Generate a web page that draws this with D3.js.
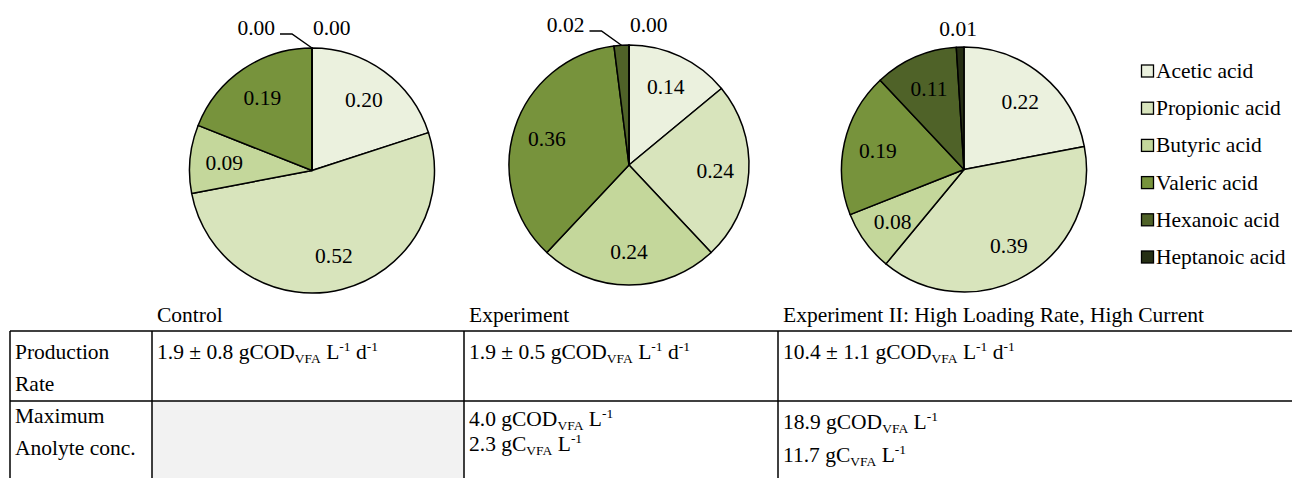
<!DOCTYPE html>
<html>
<head>
<meta charset="utf-8">
<script src="https://cdn.jsdelivr.net/npm/d3@7"></script>
<style>
  html, body { margin: 0; padding: 0; background: #fff; }
  svg { display: block; font-family: "Liberation Serif", "Times New Roman", serif; }
</style>
</head>
<body>
<svg width="1292" height="478"></svg>
<script>
// acids, colours and the three pie compositions
const acids = ["Acetic acid", "Propionic acid", "Butyric acid", "Valeric acid", "Hexanoic acid", "Heptanoic acid"];
const acidColors = ["#ebf1de", "#d8e4bc", "#c4d79b", "#77933c", "#4f6228", "#262f14"];
const controlShares = [0.20, 0.52, 0.09, 0.19, 0.00, 0.00];
const experimentShares = [0.14, 0.24, 0.24, 0.36, 0.02, 0.00];
const experiment2Shares = [0.22, 0.39, 0.08, 0.19, 0.11, 0.01];

// table contents
const conditions = ["Control", "Experiment", "Experiment II: High Loading Rate, High Current"];
const rowLabels = [["Production", "Rate"], ["Maximum", "Anolyte conc."]];
const productionRates = ["1.9 ± 0.8", "1.9 ± 0.5", "10.4 ± 1.1"];
const maxCodConc = [null, "4.0", "18.9"];
const maxCarbonConc = [null, "2.3", "11.7"];

const svg = d3.select("svg");
const fmt = d3.format(".2f");
const fontSize = 21.5;

// layout
const pies = [
  { shares: controlShares, cx: 312, cy: 170.5, r: 122.5 },
  { shares: experimentShares, cx: 629, cy: 165, r: 120 },
  { shares: experiment2Shares, cx: 964, cy: 169.5, r: 122.5 },
];
const colX = [10, 152, 464, 778, 1292];
const tableTop = 331, rowSplit = 401, tableBottom = 478;

const pie = d3.pie().sort(null).value((d) => d.value);

pies.forEach((p) => {
  const data = p.shares.map((v, i) => ({ acid: acids[i], value: v, color: acidColors[i], idx: i }));
  const arcs = pie(data);
  const arc = d3.arc().innerRadius(0).outerRadius(p.r);
  const labelArc = d3.arc().innerRadius(p.r * 0.72).outerRadius(p.r * 0.72);
  const rimArc = d3.arc().innerRadius(p.r).outerRadius(p.r);

  const g = svg.append("g").attr("transform", `translate(${p.cx},${p.cy})`);

  g.selectAll("path")
    .data(arcs)
    .enter()
    .append("path")
    .attr("d", arc)
    .attr("fill", (d) => d.data.color)
    .attr("stroke", "#000")
    .attr("stroke-width", 1.5)
    .attr("stroke-linejoin", "round");

  // labels inside the bigger slices
  g.selectAll("text.inside")
    .data(arcs.filter((d) => d.data.value >= 0.05))
    .enter()
    .append("text")
    .attr("class", "inside")
    .attr("transform", (d) => `translate(${labelArc.centroid(d)})`)
    .attr("text-anchor", "middle")
    .attr("dy", "0.35em")
    .attr("font-size", fontSize)
    .text((d) => fmt(d.data.value));

  // tiny slices get labels above the pie
  const small = arcs.filter((d) => d.data.value < 0.05);
  const hexOutside = small.some((d) => d.data.idx === 4);
  const topY = -p.r - 13;
  small.forEach((d) => {
    const [x, y] = rimArc.centroid(d);
    if (d.data.idx === 4) {
      const ex = x - 20;
      g.append("polyline")
        .attr("points", [[x, y], [ex, topY - 1], [ex - 12, topY - 1]].map((q) => q.join(",")).join(" "))
        .attr("fill", "none")
        .attr("stroke", "#000")
        .attr("stroke-width", 1.5);
      g.append("text")
        .attr("x", ex - 17)
        .attr("y", topY)
        .attr("text-anchor", "end")
        .attr("font-size", fontSize)
        .text(fmt(d.data.value));
    } else {
      g.append("text")
        .attr("x", hexOutside ? x + 1 : x - 2)
        .attr("y", hexOutside ? topY : topY + 2)
        .attr("text-anchor", hexOutside ? "start" : "middle")
        .attr("font-size", fontSize)
        .text(fmt(d.data.value));
    }
  });
});

// legend
const legend = svg.append("g").attr("transform", "translate(1141,71)");
const item = legend
  .selectAll("g")
  .data(acids)
  .enter()
  .append("g")
  .attr("transform", (d, i) => `translate(0,${i * 37.2})`);
item
  .append("rect")
  .attr("x", 0.5)
  .attr("y", -6)
  .attr("width", 12)
  .attr("height", 12)
  .attr("fill", (d, i) => acidColors[i])
  .attr("stroke", "#000")
  .attr("stroke-width", 1.3);
item
  .append("text")
  .attr("x", 15)
  .attr("y", 7)
  .attr("font-size", fontSize)
  .text((d) => d);

// table
const table = svg.append("g");

table
  .append("rect")
  .attr("x", colX[1])
  .attr("y", rowSplit)
  .attr("width", colX[2] - colX[1])
  .attr("height", tableBottom - rowSplit)
  .attr("fill", "#f2f2f2");

conditions.forEach((c, i) => {
  table
    .append("text")
    .attr("x", colX[i + 1] + 5)
    .attr("y", 322)
    .attr("font-size", fontSize)
    .text(c);
});

[tableTop, rowSplit].forEach((y) => {
  table
    .append("line")
    .attr("x1", colX[0])
    .attr("x2", colX[4])
    .attr("y1", y)
    .attr("y2", y)
    .attr("stroke", "#000")
    .attr("stroke-width", 1.5);
});
colX.slice(0, 4).forEach((x) => {
  table
    .append("line")
    .attr("x1", x)
    .attr("x2", x)
    .attr("y1", tableTop)
    .attr("y2", tableBottom)
    .attr("stroke", "#000")
    .attr("stroke-width", 1.5);
});

rowLabels.forEach((lines, r) => {
  lines.forEach((t, k) => {
    table
      .append("text")
      .attr("x", colX[0] + 5)
      .attr("y", (r === 0 ? 359 : 423) + k * 32)
      .attr("font-size", fontSize)
      .text(t);
  });
});

// text with sub/superscripts; parts: [text, "n" | "sub" | "sup"]
function richText(x, y, parts) {
  const t = table.append("text").attr("x", x).attr("y", y).attr("font-size", fontSize);
  let shift = 0;
  parts.forEach(([s, kind]) => {
    const target = kind === "sub" ? 4 : kind === "sup" ? -8 : 0;
    t.append("tspan")
      .attr("dy", target - shift)
      .attr("font-size", kind === "n" ? fontSize : 13.5)
      .text(s);
    shift = target;
  });
}

productionRates.forEach((v, i) => {
  richText(colX[i + 1] + 5, 359, [
    [v + " gCOD", "n"], ["VFA", "sub"], [" L", "n"], ["-1", "sup"], [" d", "n"], ["-1", "sup"],
  ]);
});

const concGap = [0, 25, 33];
maxCodConc.forEach((v, i) => {
  if (v === null) return;
  const y0 = i === 1 ? 426 : 429;
  richText(colX[i + 1] + 5, y0, [[v + " gCOD", "n"], ["VFA", "sub"], [" L", "n"], ["-1", "sup"]]);
  richText(colX[i + 1] + 5, y0 + concGap[i], [[maxCarbonConc[i] + " gC", "n"], ["VFA", "sub"], [" L", "n"], ["-1", "sup"]]);
});
</script>
</body>
</html>
